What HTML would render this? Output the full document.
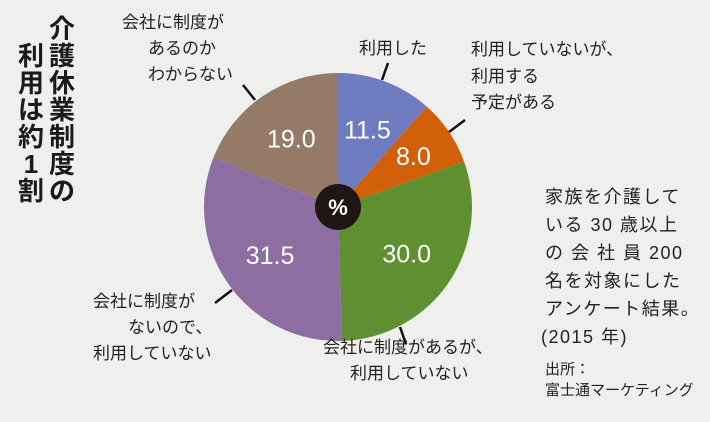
<!DOCTYPE html>
<html><head><meta charset="utf-8"><style>
html,body{margin:0;padding:0;background:#efefee;}
svg{display:block;font-family:"Liberation Sans","Noto Sans CJK JP",sans-serif;}
</style></head><body>
<svg width="710" height="422" viewBox="0 0 710 422">
<rect width="710" height="422" fill="#efefee"/>
<g id="title" font-size="26" font-weight="bold" fill="#1a1a1a" text-anchor="middle"></g>
<g id="pie"></g>
<g id="labels" font-size="17" fill="#222"></g>
<circle cx="338" cy="207" r="23" fill="#1d1614"/>
<text x="338" y="215" text-anchor="middle" font-size="22" font-weight="bold" fill="#fff">%</text>
<g font-size="18" fill="#222" letter-spacing="1.5">
<text x="545" y="203">家族を介護して</text>
<text x="545" y="231">いる 30 歳以上</text>
<text x="545" y="259">の 会 社 員 200</text>
<text x="545" y="287">名を対象にした</text>
<text x="545" y="315">アンケート結果。</text>
<text x="541" y="343">(2015 年)</text>
</g>
<g font-size="15" fill="#222">
<text x="545" y="374">出所：</text>
<text x="545" y="395">富士通マーケティング</text>
</g>
<g stroke="#111" stroke-width="2.5">
<line x1="388" y1="63" x2="382" y2="80"/>
<line x1="465" y1="120" x2="449" y2="132"/>
<line x1="400" y1="327" x2="406" y2="344"/>
<line x1="232" y1="290" x2="215" y2="303"/>
<line x1="243" y1="85" x2="255" y2="100"/>
</g>
<script>
const categories = ["利用した","利用していないが、利用する予定がある","会社に制度があるが、利用していない","会社に制度がないので、利用していない","会社に制度があるのかわからない"];
const values = [11.5, 8.0, 30.0, 31.5, 19.0];
const valueLabels = ["11.5","8.0","30.0","31.5","19.0"];
const colors = ["#6f7bbf","#d2600b","#5f8f31","#8c6ea2","#957a68"];
const NS="http://www.w3.org/2000/svg";
const cx=338, cy=207, R=134;
const total = values.reduce((a,b)=>a+b,0);
function pt(a,r){return [cx+r*Math.sin(a), cy-r*Math.cos(a)];}
const pie=document.getElementById('pie');
let acc=0;
values.forEach((v,i)=>{
  const a0=acc/total*2*Math.PI; acc+=v; const a1=acc/total*2*Math.PI;
  const p0=pt(a0,R), p1=pt(a1,R);
  const path=document.createElementNS(NS,'path');
  path.setAttribute('d',`M${cx},${cy} L${p0[0]},${p0[1]} A${R},${R} 0 ${a1-a0>Math.PI?1:0} 1 ${p1[0]},${p1[1]} Z`);
  path.setAttribute('fill',colors[i]);
  
  
  pie.appendChild(path);
  const am=(a0+a1)/2; const lp=pt(am, v<10?R*0.68:R*0.62);
  const t=document.createElementNS(NS,'text');
  t.setAttribute('x',lp[0]); t.setAttribute('y',lp[1]+9);
  t.setAttribute('text-anchor','middle'); t.setAttribute('font-size','25');
  t.setAttribute('fill','#fff'); t.textContent=valueLabels[i];
  
  
  pie.appendChild(t);
});
const labelLines=[
 [[359,54,"利用した"]],
 [[471,55,"利用していないが、"],[471,82,"利用する"],[471,108,"予定がある"]],
 [[323,353,"会社に制度があるが、"],[350,379,"利用していない"]],
 [[93,307,"会社に制度が"],[128,333,"ないので、"],[93,359,"利用していない"]],
 [[122,28,"会社に制度が"],[148,54,"あるのか"],[148,80,"わからない"]]
];
const lg=document.getElementById('labels');
labelLines.forEach((ls,i)=>ls.forEach(([x,y,s])=>{
  const t=document.createElementNS(NS,'text');
  t.setAttribute('x',x);t.setAttribute('y',y);t.textContent=s;
  
  
  lg.appendChild(t);
}));
const tg=document.getElementById('title');
const col2="介護休業制度の", col1="利用は約1割";
[...col2].forEach((c,i)=>{const t=document.createElementNS(NS,'text');t.setAttribute('x',62);t.setAttribute('y',38+i*27);t.textContent=c;
 
 tg.appendChild(t);});
[...col1].forEach((c,i)=>{const t=document.createElementNS(NS,'text');t.setAttribute('x',31);t.setAttribute('y',65+i*27);t.textContent=c;
 
 tg.appendChild(t);});
</script>
</svg>
</body></html>
